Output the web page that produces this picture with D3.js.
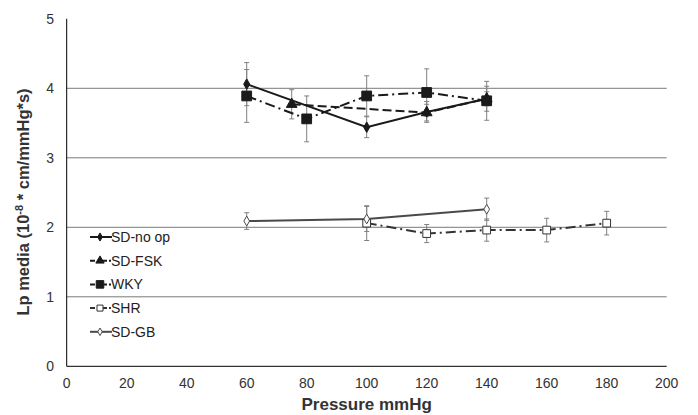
<!DOCTYPE html>
<html>
<head>
<meta charset="utf-8">
<script src="https://cdn.jsdelivr.net/npm/d3@7"></script>
<style>
  body { margin: 0; background: #fff; }
  svg { display: block; }
</style>
</head>
<body>
<div id="chart"></div>
<script>
const width = 698;
const height = 415;

// Values
const xTicks = [0, 20, 40, 60, 80, 100, 120, 140, 160, 180, 200];
const yTicks = [0, 1, 2, 3, 4, 5];

const noOpX = [60, 100, 120, 140];
const noOpY = [4.06, 3.44, 3.66, 3.85];
const noOpErr = [0.31, 0.15, 0.15, 0.18];

const fskX = [75, 120, 140];
const fskY = [3.77, 3.65, 3.85];
const fskErr = [0.21, 0.12, 0.10];

const wkyX = [60, 80, 100, 120, 140];
const wkyY = [3.89, 3.56, 3.89, 3.94, 3.82];
const wkyErr = [0.38, 0.33, 0.29, 0.34, 0.28];

const shrX = [100, 120, 140, 160, 180];
const shrY = [2.06, 1.91, 1.96, 1.96, 2.06];
const shrErr = [0.25, 0.13, 0.16, 0.17, 0.17];

const gbX = [60, 100, 140];
const gbY = [2.09, 2.12, 2.26];
const gbErr = [0.12, 0.18, 0.16];

const seriesNames = ['SD-no op', 'SD-FSK', 'WKY', 'SHR', 'SD-GB'];

// Styles per series
const series = [
    { name: seriesNames[0], xs: noOpX, ys: noOpY, err: noOpErr, color: '#1a1a1a', dash: null, symbol: d3.symbolDiamond, size: 32, fill: '#1a1a1a' },
    { name: seriesNames[1], xs: fskX, ys: fskY, err: fskErr, color: '#1a1a1a', dash: '9,4', symbol: d3.symbolTriangle, size: 50, fill: '#1a1a1a' },
    { name: seriesNames[2], xs: wkyX, ys: wkyY, err: wkyErr, color: '#1a1a1a', dash: '10,4,2,4', symbol: d3.symbolSquare, size: 95, fill: '#1a1a1a' },
    { name: seriesNames[3], xs: shrX, ys: shrY, err: shrErr, color: '#333', dash: '10,4,2,4', symbol: d3.symbolSquare, size: 60, fill: '#fff' },
    { name: seriesNames[4], xs: gbX, ys: gbY, err: gbErr, color: '#4a4a4a', dash: null, symbol: d3.symbolDiamond, size: 28, fill: '#fff' }
];

const x = d3.scaleLinear().domain([0, 200]).range([66.7, 666.7]);
const y = d3.scaleLinear().domain([0, 5]).range([366.3, 18.8]);

const svg = d3.select('#chart').append('svg')
    .attr('width', width)
    .attr('height', height);

// Gridlines
svg.append('g')
    .selectAll('line')
    .data(yTicks.filter(t => t > 0 && t < 5))
    .enter()
    .append('line')
    .attr('x1', x(0))
    .attr('x2', x(200))
    .attr('y1', d => y(d))
    .attr('y2', d => y(d))
    .attr('stroke', '#7a7a7a')
    .attr('stroke-width', 1);

// Error bars
series.forEach(s => {
    const g = svg.append('g').attr('stroke', '#808080').attr('stroke-width', 1);
    s.xs.forEach((xv, i) => {
        const cx = x(xv);
        const top = y(s.ys[i] + s.err[i]);
        const bot = y(s.ys[i] - s.err[i]);
        g.append('line').attr('x1', cx).attr('x2', cx).attr('y1', top).attr('y2', bot);
        g.append('line').attr('x1', cx - 2.5).attr('x2', cx + 2.5).attr('y1', top).attr('y2', top);
        g.append('line').attr('x1', cx - 2.5).attr('x2', cx + 2.5).attr('y1', bot).attr('y2', bot);
    });
});

// Lines
const line = d3.line().x(d => x(d[0])).y(d => y(d[1]));
series.forEach(s => {
    svg.append('path')
        .datum(s.xs.map((xv, i) => [xv, s.ys[i]]))
        .attr('d', line)
        .attr('fill', 'none')
        .attr('stroke', s.color)
        .attr('stroke-width', 2)
        .attr('stroke-dasharray', s.dash);
});

// Markers
series.forEach(s => {
    svg.append('g')
        .selectAll('path')
        .data(s.xs.map((xv, i) => [xv, s.ys[i]]))
        .enter()
        .append('path')
        .attr('d', d3.symbol().type(s.symbol).size(s.size))
        .attr('transform', d => `translate(${x(d[0])},${y(d[1])})`)
        .attr('fill', s.fill)
        .attr('stroke', s.color)
        .attr('stroke-width', 1);
});

// Axes
svg.append('line')
    .attr('x1', x(0)).attr('x2', x(0))
    .attr('y1', y(5)).attr('y2', y(0))
    .attr('stroke', '#000').attr('stroke-width', 1);
svg.append('line')
    .attr('x1', x(0)).attr('x2', x(200))
    .attr('y1', y(0)).attr('y2', y(0))
    .attr('stroke', '#000').attr('stroke-width', 1);

svg.append('g')
    .selectAll('text')
    .data(yTicks)
    .enter()
    .append('text')
    .attr('x', 54)
    .attr('y', d => y(d) + 5)
    .attr('text-anchor', 'end')
    .attr('font-family', 'Liberation Sans, Arial, sans-serif')
    .attr('font-size', '14px')
    .attr('fill', '#333')
    .text(d => d);

svg.append('g')
    .selectAll('text')
    .data(xTicks)
    .enter()
    .append('text')
    .attr('x', d => x(d))
    .attr('y', 388)
    .attr('text-anchor', 'middle')
    .attr('font-family', 'Liberation Sans Narrow, Arial Narrow, sans-serif')
    .attr('font-size', '14px')
    .attr('fill', '#333')
    .text(d => d);

// Axis titles
svg.append('text')
    .attr('x', x(100))
    .attr('y', 410)
    .attr('text-anchor', 'middle')
    .attr('font-family', 'Liberation Sans Narrow, Arial Narrow, sans-serif')
    .attr('font-weight', 'bold')
    .attr('font-size', '17px')
    .attr('fill', '#333')
    .text('Pressure mmHg');

const yTitle = svg.append('text')
    .attr('transform', 'translate(29,202) rotate(-90)')
    .attr('text-anchor', 'middle')
    .attr('font-family', 'Liberation Sans, Arial, sans-serif')
    .attr('font-weight', 'bold')
    .attr('font-size', '16.5px')
    .attr('fill', '#333');
yTitle.append('tspan').text('Lp media (10');
yTitle.append('tspan').attr('font-size', '11px').attr('dy', -6).text('-8');
yTitle.append('tspan').attr('dy', 6).text(' * cm/mmHg*s)');

// Legend
const legend = svg.append('g')
    .selectAll('g')
    .data(series)
    .enter()
    .append('g')
    .attr('transform', (d, i) => `translate(90,${237 + i * 23.7})`);

legend.append('line')
    .attr('x1', 0).attr('x2', 22)
    .attr('y1', 0).attr('y2', 0)
    .attr('stroke', d => d.color)
    .attr('stroke-width', 2)
    .attr('stroke-dasharray', d => d.dash ? '5,2,2,3' : null);

legend.append('path')
    .attr('d', d => d3.symbol().type(d.symbol).size(d.size * 0.6)())
    .attr('transform', 'translate(10,0)')
    .attr('fill', d => d.fill)
    .attr('stroke', d => d.color)
    .attr('stroke-width', 1);

legend.append('text')
    .attr('x', 21)
    .attr('y', 5)
    .attr('font-family', 'Liberation Sans, Arial, sans-serif')
    .attr('font-size', '14px')
    .attr('fill', '#222')
    .text(d => d.name);
</script>
</body>
</html>
